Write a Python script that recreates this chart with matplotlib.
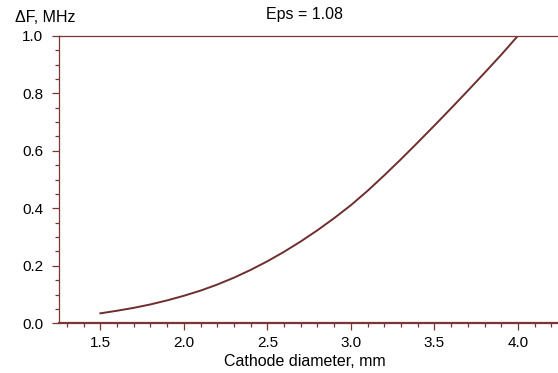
import matplotlib.pyplot as plt
from matplotlib.ticker import MultipleLocator

# Cathode diameter (mm) and frequency shift (MHz)
diameter = [1.5, 1.6, 1.7, 1.8, 1.9, 2.0, 2.1, 2.2, 2.3, 2.4, 2.5, 2.6, 2.7,
            2.8, 2.9, 3.0, 3.1, 3.2, 3.3, 3.4, 3.5, 3.6, 3.7, 3.8, 3.9, 4.0]
delta_f = [0.035, 0.044, 0.054, 0.066, 0.080, 0.096, 0.114, 0.135, 0.159,
           0.186, 0.216, 0.249, 0.285, 0.324, 0.366, 0.411, 0.461, 0.515,
           0.571, 0.629, 0.688, 0.748, 0.809, 0.871, 0.934, 1.000]

plt.rcParams['font.family'] = ['Liberation Sans', 'DejaVu Sans']
col = '#7a3535'

fig = plt.figure(figsize=(5.58, 3.73), dpi=100)
ax = fig.add_axes([0.105, 0.133, 0.895, 0.771])

ax.plot(diameter, delta_f, color='#6e2e2e', lw=1.4)

ax.set_xlim(1.25, 4.24)
ax.set_ylim(0, 1.0)
ax.xaxis.set_major_locator(MultipleLocator(0.5))
ax.xaxis.set_minor_locator(MultipleLocator(0.1))
ax.yaxis.set_major_locator(MultipleLocator(0.2))
ax.yaxis.set_minor_locator(MultipleLocator(0.05))
ax.xaxis.set_major_formatter(lambda v, p: f"{v:.1f}")
ax.yaxis.set_major_formatter(lambda v, p: f"{v:.1f}")

ax.spines['right'].set_visible(False)
ax.spines['left'].set_color(col)
ax.spines['left'].set_linewidth(0.9)
ax.spines['top'].set_color(col)
ax.spines['top'].set_linewidth(0.9)
ax.spines['bottom'].set_color(col)
ax.spines['bottom'].set_linewidth(1.6)

ax.tick_params(which='major', length=5, width=0.9, color=col, labelsize=11)
ax.tick_params(which='minor', length=3, width=0.9, color=col)
ax.tick_params(axis='x', pad=4)
ax.tick_params(axis='y', pad=6)

ax.set_xlabel("Cathode diameter, mm", fontsize=11.5, labelpad=0)
ax.xaxis.set_label_coords(0.494, -0.105)
fig.text(0.027, 0.952, "\u0394F, MHz", fontsize=11.5, ha='left', va='center')
fig.text(0.545, 0.96, "Eps = 1.08", fontsize=11.5, ha='center', va='center')

fig.savefig("out.png", dpi=100)
